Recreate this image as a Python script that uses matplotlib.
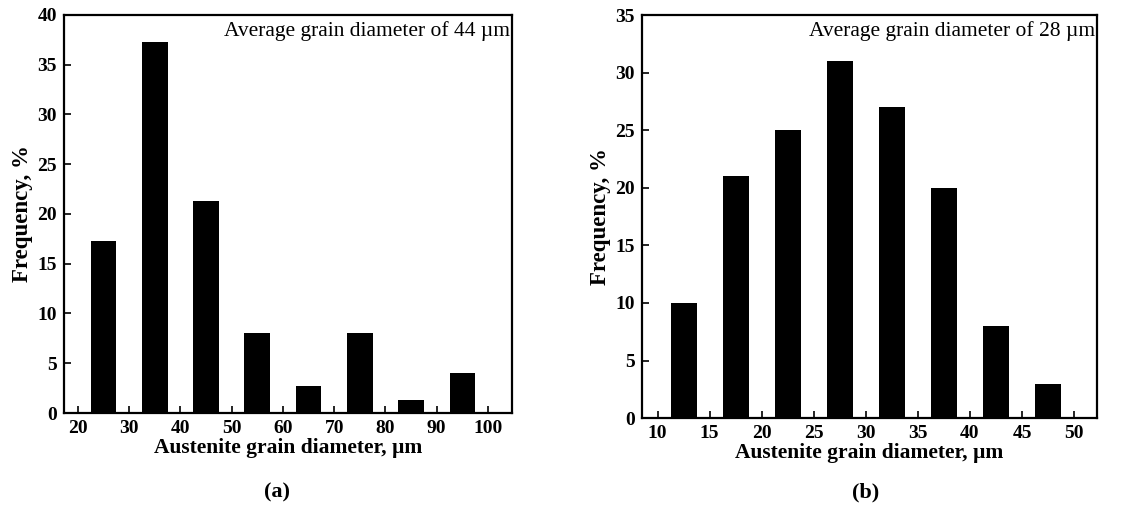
import numpy as np
import matplotlib
matplotlib.use("Agg")
import matplotlib.pyplot as plt

plt.rcParams['font.family'] = ['Liberation Serif', 'DejaVu Serif']

# panel (a)
size_a = [25, 35, 45, 55, 65, 75, 85, 95]
freq_a = [17.33, 37.33, 21.33, 8.0, 2.67, 8.0, 1.33, 4.0]
xticks_a = [20, 30, 40, 50, 60, 70, 80, 90, 100]
yticks_a = [0, 5, 10, 15, 20, 25, 30, 35, 40]

# panel (b)
size_b = [12.5, 17.5, 22.5, 27.5, 32.5, 37.5, 42.5, 47.5]
freq_b = [10, 21, 25, 31, 27, 20, 8, 3]
xticks_b = [10, 15, 20, 25, 30, 35, 40, 45, 50]
yticks_b = [0, 5, 10, 15, 20, 25, 30, 35]

fig = plt.figure(figsize=(11.45, 5.08), dpi=100, facecolor='w')
ax1 = fig.add_axes([0.0559, 0.187, 0.3913, 0.7835])
ax2 = fig.add_axes([0.5607, 0.177, 0.3974, 0.7933])


def style(ax, xt, yt, xlim, ylim, note, tag, tagx):
    ax.set_xlim(*xlim)
    ax.set_ylim(*ylim)
    ax.set_xticks(xt)
    ax.set_yticks(yt)
    ax.tick_params(direction='in', length=5, width=1.2, labelsize=14, pad=5)
    for lab in ax.get_xticklabels() + ax.get_yticklabels():
        lab.set_fontweight('bold')
    for s in ax.spines.values():
        s.set_linewidth(1.6)
    ax.set_xlabel('Austenite grain diameter, µm', fontsize=15.5, fontweight='bold', labelpad=1)
    ax.set_ylabel('Frequency, %', fontsize=16.5, fontweight='bold', labelpad=3)
    ax.text(0.995, 0.985, note, transform=ax.transAxes, ha='right', va='top', fontsize=15.5)
    fig.text(tagx, 0.03, tag, ha='center', va='center', fontsize=16, fontweight='bold')


ax1.bar(size_a, freq_a, width=5, color='black')
style(ax1, xticks_a, yticks_a, (17.3, 104.7), (0, 40),
      'Average grain diameter of 44 µm', '(a)', 0.242)

ax2.bar(size_b, freq_b, width=2.5, color='black')
style(ax2, xticks_b, yticks_b, (8.5, 52.2), (0, 35),
      'Average grain diameter of 28 µm', '(b)', 0.756)

plt.savefig('out.png', dpi=100)
